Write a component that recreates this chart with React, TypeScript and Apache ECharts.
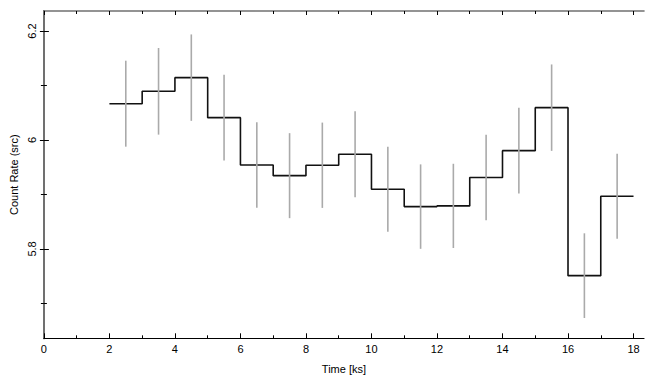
import React, { useEffect, useRef } from "react";
import * as echarts from "echarts";

// Bin edges (ks) and count rates
const binEdges = [2, 3, 4, 5, 6, 7, 8, 9, 10, 11, 12, 13, 14, 15, 16, 17, 18];
const rates = [
  6.0666, 6.0893, 6.1144, 6.041, 5.954, 5.9345, 5.9536, 5.9738, 5.9095, 5.8777,
  5.879, 5.931, 5.9804, 6.0593, 5.751, 5.8967,
];
const errors = [
  0.0789, 0.0795, 0.0793, 0.0785, 0.0785, 0.078, 0.0783, 0.0787, 0.078, 0.0775,
  0.0773, 0.0785, 0.0786, 0.0793, 0.0777, 0.0778,
];

const xMajorTicks = [0, 2, 4, 6, 8, 10, 12, 14, 16, 18];
const xMinorTicks = [1, 3, 5, 7, 9, 11, 13, 15, 17];
const yMajorTicks = [5.8, 6.0, 6.2];
const yMinorTicks = [5.7, 5.9, 6.1];

const X_MIN = 0;
const X_MAX = 18.32;
const Y_MIN = 5.636;
const Y_MAX = 6.2367;

export default function App() {
  const ref = useRef<HTMLDivElement>(null);

  useEffect(() => {
    if (!ref.current) return;
    const chart = echarts.init(ref.current, null, { renderer: "svg" });

    const stepData: number[][] = rates.map((r, i) => [binEdges[i], r]);
    stepData.push([binEdges[binEdges.length - 1], rates[rates.length - 1]]);
    const errData = rates.map((r, i) => [
      (binEdges[i] + binEdges[i + 1]) / 2,
      r - errors[i],
      r + errors[i],
    ]);

    const font = "'Liberation Sans', Arial, sans-serif";
    const gray = "#707070";
    const tickStyle = { color: "#000", width: 1 };

    const xBase = {
      type: "value",
      min: X_MIN,
      max: X_MAX,
      splitLine: { show: false },
      gridIndex: 0,
    };
    const yBase = {
      type: "value",
      min: Y_MIN,
      max: Y_MAX,
      splitLine: { show: false },
      gridIndex: 0,
    };

    chart.setOption({
      animation: false,
      backgroundColor: "#fff",
      grid: { left: 41.7, right: 11, top: 11, bottom: 46.7, containLabel: false },
      xAxis: [
        {
          ...xBase,
          position: "bottom",
          axisLine: { show: true, lineStyle: { color: "#000", width: 1.2 } },
          axisTick: { show: true, inside: true, length: 5, customValues: xMajorTicks, lineStyle: tickStyle },
          axisLabel: {
            show: true,
            customValues: xMajorTicks,
            margin: 5,
            color: "#000",
            fontSize: 11,
            fontFamily: font,
            formatter: (v: number) => String(v),
          },
          name: "Time [ks]",
          nameLocation: "middle",
          nameGap: 25,
          nameTextStyle: { color: "#000", fontSize: 11, fontFamily: font },
        },
        {
          ...xBase,
          position: "bottom",
          axisLine: { show: false },
          axisTick: { show: true, inside: true, length: 3, customValues: xMinorTicks, lineStyle: tickStyle },
          axisLabel: { show: false },
        },
        {
          ...xBase,
          position: "top",
          axisLine: { show: true, lineStyle: { color: gray, width: 1.6 } },
          axisTick: { show: true, inside: true, length: 4, customValues: xMajorTicks, lineStyle: tickStyle },
          axisLabel: { show: false },
        },
        {
          ...xBase,
          position: "top",
          axisLine: { show: false },
          axisTick: { show: true, inside: true, length: 3, customValues: xMinorTicks, lineStyle: tickStyle },
          axisLabel: { show: false },
        },
      ],
      yAxis: [
        {
          ...yBase,
          position: "left",
          axisLine: { show: true, lineStyle: { color: gray, width: 2 } },
          axisTick: { show: true, inside: true, length: 5, customValues: yMajorTicks, lineStyle: tickStyle },
          axisLabel: {
            show: true,
            customValues: yMajorTicks,
            rotate: 90,
            margin: 6,
            color: "#000",
            fontSize: 11,
            fontFamily: font,
            formatter: (v: number) => String(+v.toFixed(1)),
          },
          name: "Count Rate (src)",
          nameLocation: "middle",
          nameGap: 21,
          nameRotate: 90,
          nameTextStyle: { color: "#000", fontSize: 11, fontFamily: font },
        },
        {
          ...yBase,
          position: "left",
          axisLine: { show: false },
          axisTick: { show: true, inside: true, length: 3, customValues: yMinorTicks, lineStyle: tickStyle },
          axisLabel: { show: false },
        },
        {
          ...yBase,
          position: "right",
          axisLine: { show: true, lineStyle: { color: gray, width: 2 } },
          axisTick: { show: true, inside: true, length: 4, customValues: yMajorTicks, lineStyle: tickStyle },
          axisLabel: { show: false },
        },
        {
          ...yBase,
          position: "right",
          axisLine: { show: false },
          axisTick: { show: true, inside: true, length: 3, customValues: yMinorTicks, lineStyle: tickStyle },
          axisLabel: { show: false },
        },
      ],
      series: [
        {
          type: "line",
          xAxisIndex: 0,
          yAxisIndex: 0,
          data: stepData,
          step: "end",
          symbol: "none",
          lineStyle: { color: "#111", width: 1.6 },
          z: 2,
        },
        {
          type: "custom",
          xAxisIndex: 0,
          yAxisIndex: 0,
          data: errData,
          encode: { x: 0, y: [1, 2] },
          z: 3,
          renderItem: (params: any, api: any) => {
            const p1 = api.coord([api.value(0), api.value(1)]);
            const p2 = api.coord([api.value(0), api.value(2)]);
            return {
              type: "line",
              shape: { x1: p1[0], y1: p1[1], x2: p2[0], y2: p2[1] },
              style: { stroke: "#aaaaaa", lineWidth: 1.6 },
            };
          },
        },
      ],
    });

    return () => chart.dispose();
  }, []);

  return (
    <div
      ref={ref}
      style={{ position: "absolute", left: 0, top: 0, width: 655, height: 385 }}
    />
  );
}
